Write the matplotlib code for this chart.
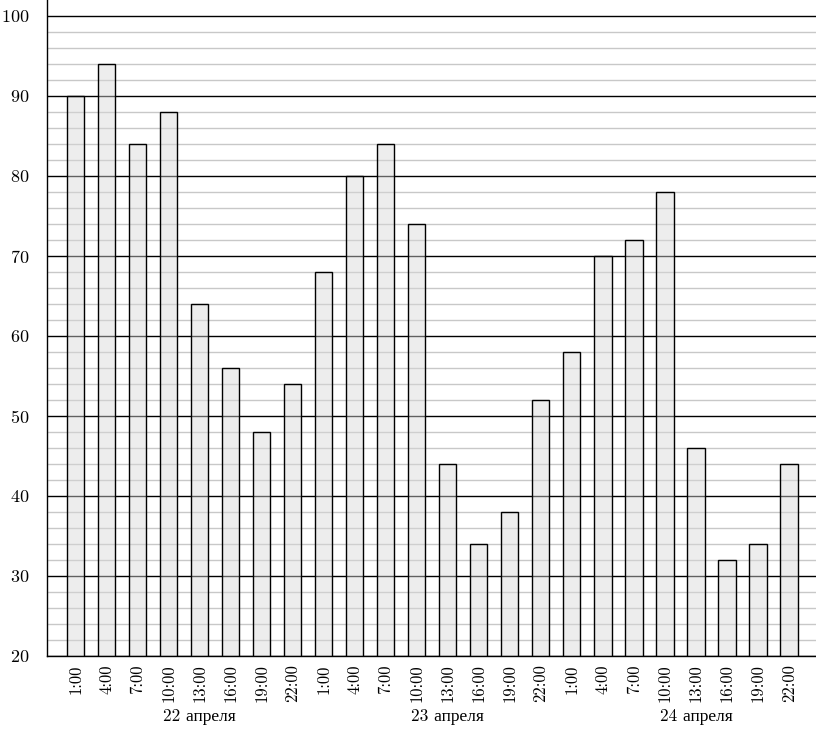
import matplotlib.pyplot as plt
import matplotlib.transforms as mtransforms
import numpy as np

hours = ["1:00", "4:00", "7:00", "10:00", "13:00", "16:00", "19:00", "22:00"]
days = ["22 апреля", "23 апреля", "24 апреля"]
values_day1 = [90, 94, 84, 88, 64, 56, 48, 54]
values_day2 = [68, 80, 84, 74, 44, 34, 38, 52]
values_day3 = [58, 70, 72, 78, 46, 32, 34, 44]

values = values_day1 + values_day2 + values_day3
labels = hours * len(days)
x = np.arange(len(values))

plt.rcParams["font.family"] = ["cmr10", "Liberation Serif"]
plt.rcParams["axes.formatter.use_mathtext"] = True

fig = plt.figure(figsize=(8.16, 7.31), dpi=100)
ax = fig.add_axes([47 / 816, 75 / 731, 1 - 47 / 816, 656 / 731])

ax.set_ylim(20, 102)
ax.set_xlim(-0.93, len(values) - 1 + 0.87)

ax.set_yticks(np.arange(20, 101, 10))
ax.set_yticks(np.arange(20, 101, 2), minor=True)
ax.grid(axis="y", which="minor", color="#c8c8c8", lw=1.0, zorder=1)
ax.grid(axis="y", which="major", color="black", lw=1.0, zorder=1)
ax.set_axisbelow(True)

ax.bar(
    x,
    values,
    width=0.55,
    bottom=0,
    facecolor=(0.85, 0.85, 0.85, 0.45),
    edgecolor="black",
    lw=1.0,
    zorder=3,
)

ax.set_xticks(x)
ax.set_xticklabels(labels, rotation=90, fontsize=12)
ax.tick_params(axis="x", length=0, pad=6)
ax.tick_params(axis="y", which="both", length=0, pad=13, labelsize=13)

for s in ["top", "right"]:
    ax.spines[s].set_visible(False)
for s in ["left", "bottom"]:
    ax.spines[s].set_color("black")
    ax.spines[s].set_linewidth(1.0)
    ax.spines[s].set_zorder(4)

trans = mtransforms.blended_transform_factory(ax.transData, ax.transAxes)
for i, day in enumerate(days):
    ax.text(4 + 8 * i, -0.093, day, transform=trans, ha="center", va="center",
            fontsize=12.5)

fig.savefig("out.png", dpi=100)
